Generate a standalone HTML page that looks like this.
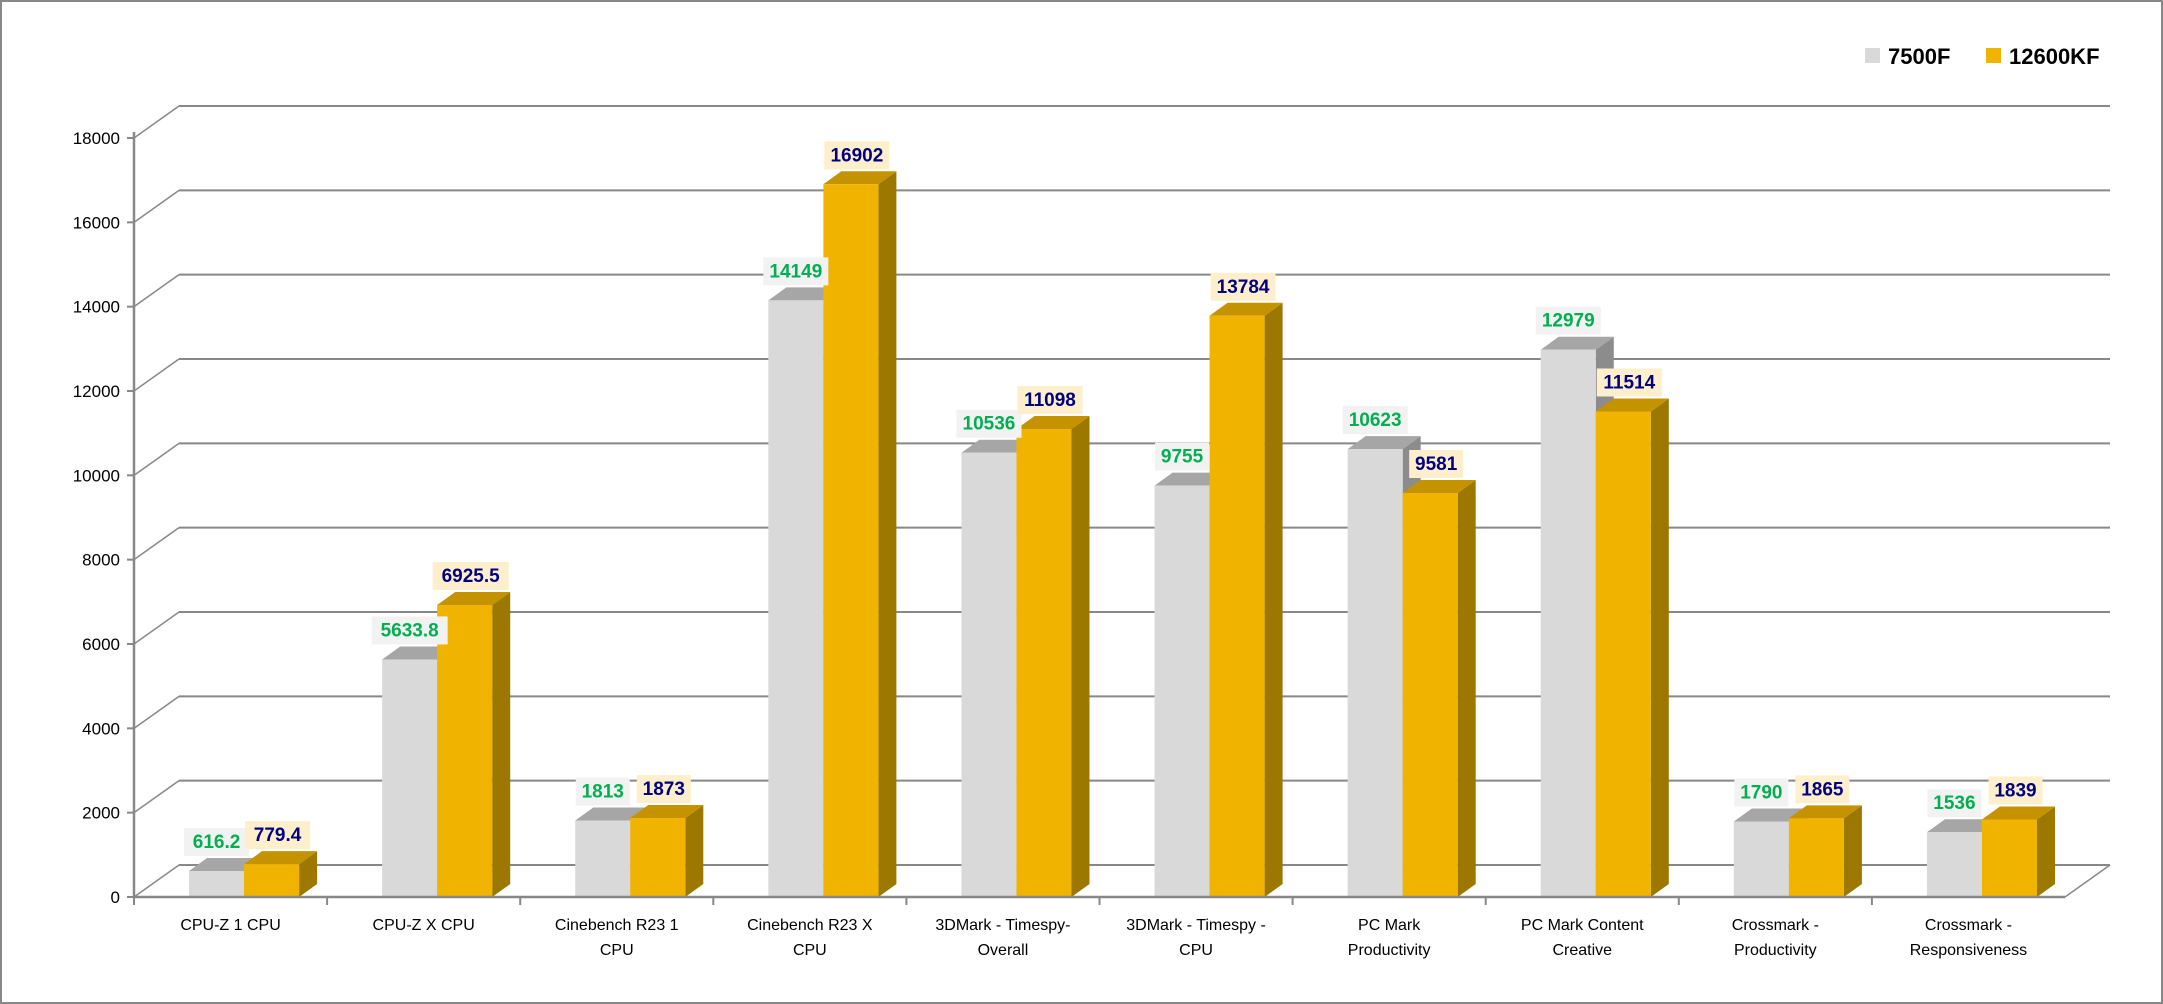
<!DOCTYPE html>
<html><head><meta charset="utf-8"><style>
html,body{margin:0;padding:0;background:#fff}
svg{display:block;font-family:"Liberation Sans",sans-serif}
</style></head><body>
<svg id="c" width="2163" height="1004" viewBox="0 0 2163 1004">
<rect x="1" y="1" width="2161" height="1002" fill="#fff" stroke="#888" stroke-width="2"/>
<g id="grid"></g>
<g id="bars"></g>
<g id="labels"></g>
<g id="axes"></g>
<g>
<rect x="1865" y="48" width="15" height="15" fill="#d9d9d9"/>
<text x="1888" y="64" font-size="22" font-weight="bold">7500F</text>
<rect x="1986" y="48" width="15" height="15" fill="#f0b400"/>
<text x="2009" y="64" font-size="22" font-weight="bold">12600KF</text>
</g>
</svg>
<script>
const categories=[["CPU-Z 1 CPU"],["CPU-Z X CPU"],["Cinebench R23 1","CPU"],["Cinebench R23 X","CPU"],["3DMark - Timespy-","Overall"],["3DMark - Timespy -","CPU"],["PC Mark","Productivity"],["PC Mark Content","Creative"],["Crossmark -","Productivity"],["Crossmark -","Responsiveness"]];
const series7500F=[616.2,5633.8,1813,14149,10536,9755,10623,12979,1790,1536];
const series12600KF=[779.4,6925.5,1873,16902,11098,13784,9581,11514,1865,1839];
const labels7500F=["616.2","5633.8","1813","14149","10536","9755","10623","12979","1790","1536"];
const labels12600KF=["779.4","6925.5","1873","16902","11098","13784","9581","11514","1865","1839"];
const yTicks=[0,2000,4000,6000,8000,10000,12000,14000,16000,18000];

const NS="http://www.w3.org/2000/svg";
const X0=134,X1=2065,Y0=897,YT=138,DX=45,DY=-32,YMAX=18000;
const catW=(X1-X0)/categories.length;
function y(v){return Y0-(v/YMAX)*(Y0-YT);}
function xc(i){return X0+catW*i;}
function mk(tag,attrs,parent){const e=document.createElementNS(NS,tag);for(const k in attrs)e.setAttribute(k,attrs[k]);parent.appendChild(e);return e;}
const grid=document.getElementById('grid'),bars=document.getElementById('bars'),labels=document.getElementById('labels'),axes=document.getElementById('axes');

yTicks.forEach(t=>{
  const yy=y(t);
  const l=mk('line',{x1:X0+DX,y1:yy+DY,x2:X1+DX,y2:yy+DY,stroke:'#888','stroke-width':2},grid);
  
  
  const d=mk('line',{x1:X0,y1:yy,x2:X0+DX,y2:yy+DY,stroke:'#888','stroke-width':1.5},grid);
  
  
  const tk=mk('line',{x1:X0-7,y1:yy,x2:X0,y2:yy,stroke:'#888','stroke-width':2},axes);
  
  
  const tx=mk('text',{x:X0-14,y:yy+6,'text-anchor':'end','font-size':17,fill:'#000'},axes);
  tx.textContent=String(t);
  
  
});
const fl=mk('line',{x1:X1,y1:Y0,x2:X1+DX,y2:Y0+DY,stroke:'#888','stroke-width':1.5},grid);



const bw=catW*0.285, bdx=18, bdy=-13;
function bar(x,v,front,top,side,name){
  const yt=y(v);
  const g=mk('g',{},bars);
  
  
  mk('polygon',{points:`${x+bw},${Y0} ${x+bw+bdx},${Y0+bdy} ${x+bw+bdx},${yt+bdy} ${x+bw},${yt}`,fill:side},g);
  mk('polygon',{points:`${x},${yt} ${x+bdx},${yt+bdy} ${x+bw+bdx},${yt+bdy} ${x+bw},${yt}`,fill:top},g);
  mk('rect',{x:x,y:yt,width:bw,height:Y0-yt,fill:front},g);
}
function label(cx,v,txt,bg,fg,name){
  const yt=y(v)+bdy;
  const w=txt.length*11+10;
  const g=mk('g',{},labels);
  
  
  mk('rect',{x:cx-w/2,y:yt-30,width:w,height:28,fill:bg},g);
  const t=mk('text',{x:cx,y:yt-10,'text-anchor':'middle','font-size':19,'font-weight':'bold',fill:fg},g);
  t.textContent=txt;
}
categories.forEach((c,i)=>{
  const gx=xc(i)+catW*0.285, ox=gx+bw;
  bar(gx,series7500F[i],'#d9d9d9','#a6a6a6','#8c8c8c','bar-7500f');
  bar(ox,series12600KF[i],'#f0b400','#c59300','#9c7800','bar-12600kf');
  const tk=mk('line',{x1:xc(i),y1:Y0,x2:xc(i),y2:Y0+8,stroke:'#888','stroke-width':2},axes);
  
  
  c.forEach((line,j)=>{
    const t=mk('text',{x:xc(i)+catW/2,y:930+j*25,'text-anchor':'middle','font-size':16,fill:'#000'},axes);
    t.textContent=line;
    
    
  });
});
categories.forEach((c,i)=>{
  const gx=xc(i)+catW*0.285, ox=gx+bw;
  label(gx+bw/2,series7500F[i],labels7500F[i],'#f2f2f2','#00b050','value-label-7500f');
  label(ox+bw/2+6,series12600KF[i],labels12600KF[i],'#fdefcb','#000080','value-label-12600kf');
});
const ya=mk('line',{x1:X0,y1:YT-6,x2:X0,y2:Y0,stroke:'#888','stroke-width':2.5},axes);


const xa=mk('line',{x1:X0,y1:Y0,x2:X1,y2:Y0,stroke:'#888','stroke-width':2.5},axes);


</script>
</body></html>
